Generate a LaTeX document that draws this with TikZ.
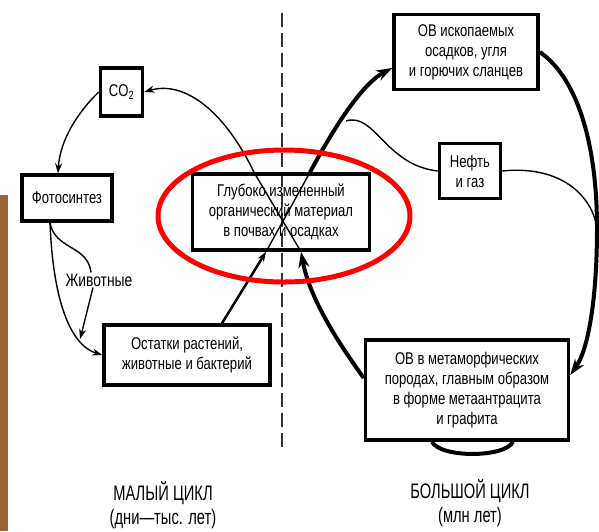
\documentclass[tikz,border=0pt]{standalone}
\usepackage{fontspec}
\setmainfont{Liberation Sans}[FakeStretch=0.77]
\newfontfamily\capfont{Liberation Sans}[FakeStretch=0.7]
\usetikzlibrary{arrows.meta}
\definecolor{stripbrown}{RGB}{155,100,50}
\tikzset{
box/.style={draw, line width=3.5pt, rectangle, align=center, inner sep=0pt, font=\fontsize{17}{20}\selectfont},
wire/.style={line width=1.4pt},
flow/.style={line width=1.4pt, -{Stealth[length=10pt,width=7pt]}},
bigflow/.style={line width=4pt, -{Stealth[length=16pt,width=11pt]}},
caption/.style={align=center, font=\capfont\fontsize{21}{24}\selectfont}
}

\begin{document}
\begin{tikzpicture}[x=1pt,y=-1pt]
\useasboundingbox (0,0) rectangle (599,531);
\fill[white] (0,0) rectangle (599,531);
\fill[stripbrown] (0,195) rectangle (8,531);
\draw[line width=1.5pt, dash pattern=on 14pt off 6pt, black!80] (282,13) -- (282,452);

\node[box, minimum width=42pt, minimum height=48pt] (a) at (121.5,92) {CO\textsubscript{2}};
\node[box, minimum width=90pt, minimum height=46pt] (b) at (67,198) {Фотосинтез};
\node[box, minimum width=177pt, minimum height=76pt] (c) at (281,212) {Глубоко измененный\\органический материал\\в почвах и осадках};
\node[box, minimum width=144pt, minimum height=75pt] (d) at (466,52) {ОВ ископаемых\\осадков, угля\\и горючих сланцев};
\node[box, minimum width=61pt, minimum height=55pt] (e) at (470,171) {Нефть\\и газ};
\node[box, minimum width=166pt, minimum height=60pt] (f) at (187,355) {Остатки растений,\\животные и бактерий};
\node[box, minimum width=203pt, minimum height=100pt] (g) at (467,390) {ОВ в метаморфических\\породах, главным образом\\в форме метаантрацита\\и графита};
\node[font=\fontsize{18}{20}\selectfont, inner sep=1pt] (h) at (99,280) {Животные};
\node[caption] (x) at (163,505) {МАЛЫЙ ЦИКЛ\\(дни—тыс. лет)};
\node[caption] (x2) at (470,503) {БОЛЬШОЙ ЦИКЛ\\(млн лет)};

\coordinate (m) at (80,339);
\coordinate (br) at (346,121);
\coordinate (r) at (597,228);

% small cycle
\draw[flow] ([xshift=-27pt]c.north) .. controls (225,112) and (185,80) .. (a.east);
\draw[flow] (a.west) .. controls (78,112) and (60,140) .. ([xshift=-9pt]b.north);
\draw[flow] ([xshift=-17pt]b.south) .. controls (53,300) and (70,345) .. (f.west);
\draw[wire] ([xshift=-17pt]b.south) .. controls (55,250) and (88,245) .. ([xshift=-8pt]h.north);
\draw[flow] ([xshift=-6pt]h.south) .. controls (88,310) .. (m);
\draw[flow, line width=2.5pt] ([xshift=35pt]f.north) -- ([xshift=-15pt]c.south);
\draw[wire] ([xshift=-15pt]c.south) -- ([xshift=29pt]c.north);
\draw[wire] ([xshift=20pt]c.south) -- ([xshift=-27pt]c.north);

% big cycle
\draw[bigflow] ([xshift=29pt]c.north) .. controls (330,135) and (360,85) .. ([yshift=-16pt]d.west);
\draw[wire] (br) .. controls (375,112) and (385,165) .. (e.west);
\draw[wire] (e.east) .. controls (560,165) and (592,195) .. (r);
\draw[line width=4pt] (d.east) .. controls (580,80) and (597,150) .. (r);
\draw[bigflow] (r) .. controls (597,300) and (588,350) .. ([yshift=15pt]g.east);
\draw[bigflow] ([yshift=12pt]g.west) .. controls (340,345) and (310,300) .. ([xshift=20pt]c.south);
\draw[line width=4pt] ([xshift=-35pt]g.south) .. controls (440,458) and (505,458) .. ([xshift=46pt]g.south);

\draw[red, line width=5pt] (284,216) ellipse [x radius=126pt, y radius=66pt];

\end{tikzpicture}
\end{document}
